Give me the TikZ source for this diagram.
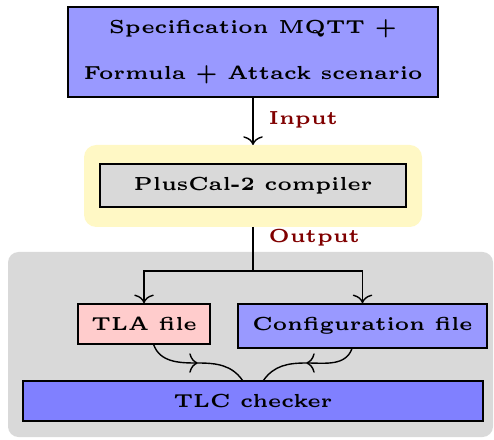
\documentclass[tikz,border=0pt]{standalone}
\usetikzlibrary{arrows.meta}
\definecolor{boxblue}{RGB}{153,153,255}
\definecolor{deepblue}{RGB}{128,128,255}
\definecolor{boxpink}{RGB}{255,204,204}
\definecolor{boxgray}{RGB}{217,217,217}
\definecolor{paleyellow}{RGB}{255,248,197}
\definecolor{labelred}{RGB}{128,0,0}
\begin{document}
\begin{tikzpicture}[x=0.286pt,y=-0.286pt,
  every node/.style={font=\fontsize{5.4}{6.5}\selectfont\bfseries},
  stagebox/.style={draw=black,rectangle,inner sep=0pt,align=center},
  flowlabel/.style={text=labelred,anchor=west,inner sep=0pt},
  link/.style={draw=black,line width=0.4pt},
  tipped/.style={link,-{To[length=2.5pt,width=5.6pt]}}]
  \useasboundingbox (0,0) rectangle (494,439);

  % backgrounds
  \fill[paleyellow,rounded corners=3.5pt] (84,145) rectangle (422,227);
  \fill[boxgray,rounded corners=3pt] (8,252) rectangle (493,437);

  % boxes
  \node[stagebox,fill=boxblue,minimum width=370*0.286pt,minimum height=90*0.286pt]
    (spec) at (253,52) {Specification MQTT +\\[6.8pt]Formula + Attack scenario};
  \node[stagebox,fill=boxgray,minimum width=306*0.286pt,minimum height=43*0.286pt]
    (comp) at (253,185.5) {PlusCal-2 compiler};
  \node[stagebox,fill=boxpink,minimum width=132*0.286pt,minimum height=40*0.286pt]
    (tla) at (144,324) {TLA file};
  \node[stagebox,fill=boxblue,minimum width=249*0.286pt,minimum height=44*0.286pt]
    (cfg) at (362.5,326) {Configuration file};
  \node[stagebox,fill=deepblue,minimum width=460*0.286pt,minimum height=40*0.286pt]
    (tlc) at (253,401) {TLC checker};

  % input / output flow
  \coordinate (yelTop) at (253,145);
  \coordinate (yelBot) at (253,227);
  \coordinate (split) at (253,271);
  \draw[tipped] (spec.south) -- (yelTop);
  \node[flowlabel] (inLbl) at (268,120) {Input};
  \draw[link] (yelBot) -- (split);
  \node[flowlabel] (outLbl) at (268,238) {Output};
  \draw[tipped] (split) -| (tla.north);
  \draw[tipped] (split) -| (cfg.north);

  % files feeding the checker
  \coordinate (midL) at (198,363);
  \coordinate (midR) at (306,363);
  \draw[tipped] (tla.-65) to[out=-70,in=180] (midL);
  \draw[link] (midL) to[out=0,in=125] (tlc.117);
  \draw[tipped] (cfg.-115) to[out=-110,in=0] (midR);
  \draw[link] (midR) to[out=180,in=55] (tlc.63);
\end{tikzpicture}
\end{document}
